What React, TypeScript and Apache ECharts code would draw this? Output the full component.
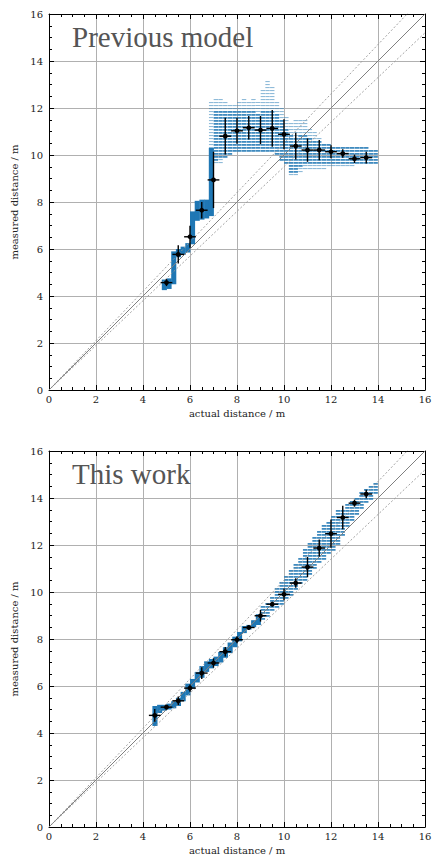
import React, { useEffect, useRef } from "react";
import * as echarts from "echarts";

// ---------- axis / reference data ----------
const AXIS_MIN = 0;
const AXIS_MAX = 16;
const AXIS_STEP = 2;
const DIAG_FACTORS = [1, 1.05, 0.95]; // y = k * x reference lines
const COL_W = 0.2; // width of a scatter-cloud column (m)
const X_ERR = 0.25;

const TITLES = ["Previous model", "This work"];
const X_NAME = "actual distance / m";
const Y_NAME = "measured distance / m";

// ---------- Previous model ----------
// [x, low, high] ranges of the measurement cloud
const PREV_SOLID: number[][] = [
  [4.9, 4.25, 4.7], [5.1, 4.3, 4.75], [5.3, 4.5, 5.9], [5.5, 5.65, 6.0],
  [5.7, 5.75, 6.1], [5.9, 5.85, 6.25], [6.1, 6.2, 7.6], [6.3, 7.2, 8.05],
  [6.5, 7.25, 8.1], [6.7, 7.3, 8.1], [6.9, 7.4, 10.3],
];
const PREV_STRIPED: number[][] = [
  [7.1, 9.8, 11.9], [7.3, 9.85, 11.9], [7.5, 9.9, 11.95], [7.7, 10.0, 11.9],
  [7.9, 10.1, 11.9], [8.1, 10.15, 11.95], [8.3, 10.1, 11.9], [8.5, 10.2, 11.95],
  [8.7, 10.1, 11.9], [8.9, 10.15, 11.85], [9.1, 10.1, 11.9], [9.3, 10.2, 11.95],
  [9.5, 10.1, 11.9], [9.7, 10.0, 11.8], [9.9, 9.8, 11.6], [10.1, 9.6, 11.2],
  [10.3, 9.3, 10.9], [10.5, 9.3, 10.8], [10.7, 9.55, 10.9], [10.9, 9.6, 10.95],
  [11.1, 9.6, 10.8], [11.3, 9.6, 10.7], [11.5, 9.6, 10.6], [11.7, 9.6, 10.55],
  [11.9, 9.6, 10.5], [12.1, 9.6, 10.45], [12.3, 9.6, 10.4], [12.5, 9.6, 10.4],
  [12.7, 9.6, 10.4], [12.9, 9.6, 10.35], [13.1, 9.6, 10.35], [13.3, 9.6, 10.35],
  [13.5, 9.65, 10.35], [13.7, 9.65, 10.3], [13.9, 9.7, 10.3],
];
const PREV_HALO: number[][] = [
  [6.9, 10.3, 12.3], [7.1, 11.9, 12.45], [7.3, 11.9, 12.4], [7.5, 11.95, 12.3],
  [7.7, 11.9, 12.2], [7.9, 11.9, 12.15], [8.1, 11.95, 12.3], [8.3, 11.9, 12.45],
  [8.5, 11.95, 12.3], [8.7, 11.9, 12.5], [8.9, 11.85, 12.3], [9.1, 11.9, 12.8],
  [9.3, 11.95, 13.2], [9.5, 11.9, 13.0], [9.7, 11.8, 12.3], [9.9, 11.6, 12.0],
  [10.1, 11.2, 11.7], [10.3, 10.9, 11.4], [10.5, 10.8, 11.5], [10.7, 10.9, 11.6],
  [10.9, 10.95, 11.5], [11.1, 10.8, 11.2], [11.3, 10.7, 11.0], [11.5, 10.6, 10.85],
  [7.1, 9.6, 9.8], [7.3, 9.65, 9.85], [10.3, 9.15, 9.3], [10.5, 9.15, 9.3],
  [10.7, 9.3, 9.55], [10.9, 9.35, 9.6], [11.1, 9.4, 9.6], [11.3, 9.4, 9.6],
  [11.5, 9.4, 9.6], [11.7, 9.4, 9.6], [11.9, 9.45, 9.6], [12.1, 9.45, 9.6],
  [12.3, 9.45, 9.6], [12.5, 9.45, 9.6], [12.7, 9.45, 9.6], [12.9, 9.5, 9.6],
];
const PREV_X = [5.0, 5.5, 6.0, 6.5, 7.0, 7.5, 8.0, 8.5, 9.0, 9.5, 10.0, 10.5, 11.0, 11.5, 12.0, 12.5, 13.0, 13.5];
const PREV_Y = [4.57, 5.77, 6.52, 7.65, 8.94, 10.8, 11.03, 11.16, 11.06, 11.13, 10.88, 10.38, 10.21, 10.21, 10.14, 10.06, 9.84, 9.89];
const PREV_YERR = [0.15, 0.39, 0.47, 0.35, 1.2, 0.78, 0.55, 0.5, 0.6, 0.78, 0.64, 0.57, 0.5, 0.43, 0.28, 0.18, 0.18, 0.25];

// ---------- This work ----------
const NEW_SOLID: number[][] = [
  [4.5, 4.3, 5.15], [4.7, 4.85, 5.2], [4.9, 4.95, 5.2], [5.1, 5.0, 5.25],
  [5.3, 5.05, 5.35], [5.5, 5.15, 5.5], [5.7, 5.35, 5.75], [5.9, 5.6, 6.1],
  [6.1, 5.9, 6.3], [6.3, 6.15, 6.6], [6.5, 6.35, 6.85], [6.7, 6.6, 7.05],
  [6.9, 6.75, 7.15], [7.1, 6.85, 7.25], [7.3, 7.0, 7.45], [7.5, 7.2, 7.65],
  [7.7, 7.4, 7.85], [7.9, 7.65, 8.1], [8.1, 7.9, 8.3], [8.3, 8.25, 8.55],
  [8.5, 8.4, 8.6], [8.7, 8.5, 8.8], [8.9, 8.6, 9.05],
];
const NEW_STRIPED: number[][] = [
  [9.1, 8.8, 9.45], [9.3, 8.95, 9.65], [9.5, 9.15, 9.9], [9.7, 9.35, 10.2],
  [9.9, 9.5, 10.45], [10.1, 9.7, 10.7], [10.3, 9.9, 10.95], [10.5, 10.1, 11.25],
  [10.7, 10.3, 11.55], [10.9, 10.5, 11.9], [11.1, 10.75, 12.2], [11.3, 11.0, 12.45],
  [11.5, 11.2, 12.7], [11.7, 11.4, 12.9], [11.9, 11.6, 13.1], [12.1, 11.8, 13.35],
  [12.3, 12.0, 13.5], [12.5, 12.45, 13.6], [12.7, 12.8, 13.75], [12.9, 13.1, 13.9],
  [13.1, 13.3, 14.1], [13.3, 13.5, 14.3], [13.5, 13.75, 14.45], [13.7, 13.9, 14.6],
  [13.9, 14.15, 14.75],
];
const NEW_HALO: number[][] = [];
const NEW_X = [4.5, 5.0, 5.5, 6.0, 6.5, 7.0, 7.5, 8.0, 8.5, 9.0, 9.5, 10.0, 10.5, 11.0, 11.5, 12.0, 12.5, 13.0, 13.5];
const NEW_Y = [4.75, 5.1, 5.37, 5.91, 6.55, 6.98, 7.46, 7.97, 8.49, 8.99, 9.48, 9.9, 10.38, 11.06, 11.87, 12.48, 13.17, 13.78, 14.17];
const NEW_YERR = [0.27, 0.1, 0.18, 0.15, 0.25, 0.2, 0.2, 0.15, 0.1, 0.25, 0.1, 0.25, 0.2, 0.43, 0.36, 0.6, 0.5, 0.15, 0.18];

// ---------- styling ----------
const BLUE = "#1f77b4";
const SERIF = "DejaVu Serif";
const PANEL_TOP = [14, 451];
const PANEL_LEFT = 49;
const PANEL_SIZE = 376;

function bandRender(mode: "solid" | "striped" | "halo") {
  return (params: any, api: any) => {
    const x = api.value(0);
    const lo = api.value(1);
    const hi = api.value(2);
    const p0 = api.coord([x - COL_W / 2, hi]);
    const p1 = api.coord([x + COL_W / 2, lo]);
    const left = p0[0];
    const top = p0[1];
    const bottom = p1[1];
    if (mode === "solid") {
      return {
        type: "rect",
        shape: { x: left, y: top, width: p1[0] - p0[0] + 0.4, height: bottom - top },
        style: { fill: BLUE },
      };
    }
    const children: any[] = [];
    const step = 3;
    const h = mode === "striped" ? 1.8 : 1.1;
    const w = p1[0] - p0[0] - 0.3;
    const fill = mode === "striped" ? "rgba(31,119,180,0.85)" : "rgba(31,119,180,0.5)";
    for (let y = Math.ceil(top / step) * step; y < bottom; y += step) {
      children.push({
        type: "rect",
        shape: { x: left + 0.15, y, width: w, height: h },
        style: { fill },
      });
    }
    return { type: "group", children };
  };
}

function errRender(params: any, api: any) {
  const x = api.value(0);
  const y = api.value(1);
  const ey = api.value(2);
  const ex = api.value(3);
  const c = api.coord([x, y]);
  const l = api.coord([x - ex, y]);
  const r = api.coord([x + ex, y]);
  const t = api.coord([x, y + ey]);
  const b = api.coord([x, y - ey]);
  return {
    type: "group",
    children: [
      { type: "line", shape: { x1: l[0], y1: c[1], x2: r[0], y2: c[1] }, style: { stroke: "#000", lineWidth: 1.4 } },
      { type: "line", shape: { x1: c[0], y1: t[1], x2: c[0], y2: b[1] }, style: { stroke: "#000", lineWidth: 1.4 } },
      { type: "circle", shape: { cx: c[0], cy: c[1], r: 2.4 }, style: { fill: "#000" } },
    ],
  };
}

function axisBase(showLabel: boolean) {
  return {
    type: "value",
    min: AXIS_MIN,
    max: AXIS_MAX,
    interval: AXIS_STEP,
    axisLine: { show: true, onZero: false, lineStyle: { color: "#000", width: 1 } },
    axisTick: { show: true, inside: true, length: 5, lineStyle: { color: "#000", width: 1 } },
    minorTick: { show: true, splitNumber: 4, length: 3, lineStyle: { color: "#000", width: 1 } },
    splitLine: { show: showLabel, lineStyle: { color: "#b0b0b0", width: 1 } },
    axisLabel: {
      show: showLabel,
      fontFamily: SERIF,
      fontSize: 10,
      color: "#222",
    },
  };
}

export default function App() {
  const ref = useRef<HTMLDivElement>(null);
  useEffect(() => {
    if (!ref.current) return;
    const chart = echarts.init(ref.current, undefined, { renderer: "svg" });
    const panels = [
      { solid: PREV_SOLID, striped: PREV_STRIPED, halo: PREV_HALO, xs: PREV_X, ys: PREV_Y, es: PREV_YERR },
      { solid: NEW_SOLID, striped: NEW_STRIPED, halo: NEW_HALO, xs: NEW_X, ys: NEW_Y, es: NEW_YERR },
    ];
    const grid: any[] = [];
    const xAxis: any[] = [];
    const yAxis: any[] = [];
    const series: any[] = [];
    const graphic: any[] = [];
    panels.forEach((p, i) => {
      grid.push({ left: PANEL_LEFT, top: PANEL_TOP[i], width: PANEL_SIZE, height: PANEL_SIZE });
      xAxis.push({
        ...axisBase(true),
        gridIndex: i,
        position: "bottom",
        name: X_NAME,
        nameLocation: "middle",
        nameGap: 18,
        nameTextStyle: { fontFamily: SERIF, fontSize: 10, color: "#222" },
        axisLabel: { ...axisBase(true).axisLabel, margin: 4 },
      });
      xAxis.push({ ...axisBase(false), gridIndex: i, position: "top" });
      yAxis.push({
        ...axisBase(true),
        gridIndex: i,
        position: "left",
        name: Y_NAME,
        nameLocation: "middle",
        nameGap: 27,
        nameTextStyle: { fontFamily: SERIF, fontSize: 10, color: "#222" },
        axisLabel: { ...axisBase(true).axisLabel, margin: 6 },
      });
      yAxis.push({ ...axisBase(false), gridIndex: i, position: "right" });
      const xi = 2 * i;
      const common = { xAxisIndex: xi, yAxisIndex: xi, clip: true, silent: true };
      series.push({ ...common, type: "custom", renderItem: bandRender("halo"), data: p.halo, encode: { x: 0, y: [1, 2] }, z: 2 });
      series.push({ ...common, type: "custom", renderItem: bandRender("striped"), data: p.striped, encode: { x: 0, y: [1, 2] }, z: 2 });
      series.push({ ...common, type: "custom", renderItem: bandRender("solid"), data: p.solid, encode: { x: 0, y: [1, 2] }, z: 2 });
      DIAG_FACTORS.forEach((k, j) => {
        series.push({
          ...common,
          type: "line",
          data: [[AXIS_MIN, AXIS_MIN * k], [AXIS_MAX, AXIS_MAX * k]],
          showSymbol: false,
          symbol: "none",
          lineStyle: j === 0
            ? { color: "#808080", width: 1, type: "solid" }
            : { color: "#999", width: 0.9, type: [2, 2] },
          z: 3,
        });
      });
      series.push({
        ...common,
        type: "custom",
        renderItem: errRender,
        data: p.xs.map((x, k) => [x, p.ys[k], p.es[k], X_ERR]),
        encode: { x: 0, y: 1 },
        z: 5,
      });
      graphic.push({
        type: "text",
        left: 72,
        top: PANEL_TOP[i] + 8,
        z: 10,
        style: {
          text: TITLES[i],
          font: '29px "Liberation Serif"',
          fill: "#555",
        },
      });
    });
    chart.setOption({
      animation: false,
      backgroundColor: "#fff",
      grid,
      xAxis,
      yAxis,
      series,
      graphic,
    });
    return () => chart.dispose();
  }, []);
  return (
    <div
      ref={ref}
      style={{ position: "absolute", left: 0, top: 0, width: 437, height: 857 }}
    />
  );
}
